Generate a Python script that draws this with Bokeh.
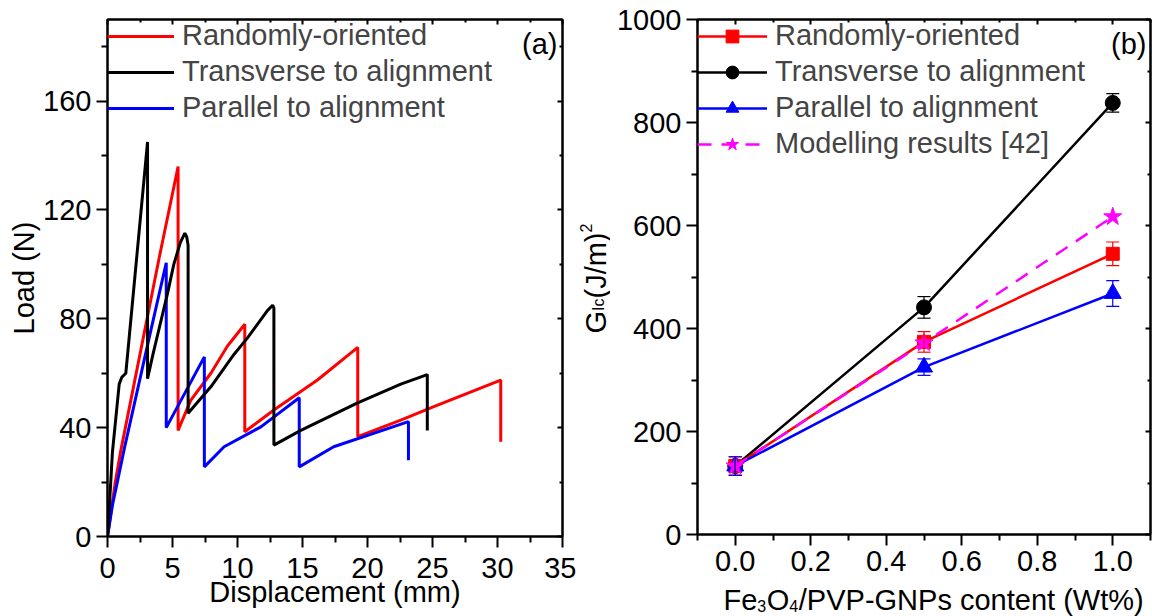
import math
from bokeh.plotting import figure
from bokeh.models import (Range1d, FixedTicker, LinearAxis, Legend, LegendItem, Label,
                          Whisker, TeeHead, ColumnDataSource, NumeralTickFormatter,
                          CustomJSTickFormatter)
from bokeh.layouts import row, column
from bokeh.embed import file_html
from bokeh.resources import INLINE

FONT = "Liberation Sans"
FS = "29px"

# ---------------- panel (a): load vs displacement ----------------
disp_random = [0, 0.3, 0.6, 1.0, 2.0, 3.0, 4.0, 5.43, 5.43, 6.4, 7.95, 9.23, 10.56, 10.56,
               12.8, 16.15, 19.25, 19.25, 22.56, 25.1, 30.25, 30.25]
load_random = [0, 10, 20, 31, 55, 79, 103, 136, 39, 50, 60, 70, 78, 38.5,
               46.5, 57.5, 69.5, 36.7, 42.8, 47.7, 57.5, 34.8]

disp_trans = [0, 0.25, 0.38, 0.9, 1.1, 1.41, 3.08, 3.08, 3.5, 4.0, 4.6, 5.1, 5.6, 5.95,
              6.1, 6.2, 6.2, 7.95, 9.74, 10.77, 12.3, 12.7, 12.8, 12.8, 14.87, 19.2,
              22.56, 24.6, 24.6]
load_trans = [0, 20, 31, 56, 58.5, 60, 145, 58, 67, 77, 89, 100, 108, 111.5,
              110, 107, 45.3, 55, 67, 73, 83, 85, 84, 33.6, 39, 49,
              56, 59.5, 39]

disp_para = [0, 0.4, 0.8, 1.28, 3.3, 4.52, 4.52, 7.45, 7.45, 8.97, 11.8, 14.75, 14.75,
             17.4, 23.15, 23.15]
load_para = [0, 12, 21, 32, 75, 100.6, 40, 66, 25.6, 33, 40.3, 51, 25.6,
             33, 42.2, 28]

a_xticks = [0, 5, 10, 15, 20, 25, 30, 35]
a_xminor = [2.5, 7.5, 12.5, 17.5, 22.5, 27.5, 32.5]
a_yticks = [0, 40, 80, 120, 160]
a_yminor = [20, 60, 100, 140, 180]

# ---------------- panel (b): G_Ic vs content ----------------
content = [0.0, 0.5, 1.0]
g_random = [133, 374, 545]
e_random = [18, 20, 23]
g_trans = [133, 441, 838]
e_trans = [18, 21, 18]
g_para = [133, 325, 468]
e_para = [18, 16, 25]
g_model = [133, 372, 617]

b_xticks = [0.0, 0.2, 0.4, 0.6, 0.8, 1.0]
b_xminor = [-0.1, 0.1, 0.3, 0.5, 0.7, 0.9, 1.1]
b_yticks = [0, 200, 400, 600, 800, 1000]
b_yminor = [100, 300, 500, 700, 900]

series_names = ["Randomly-oriented", "Transverse to alignment", "Parallel to alignment",
                "Modelling results [42]"]


def make_axis(ticks, minors, fmt=None, labels=True, standoff=5):
    ax = LinearAxis(ticker=FixedTicker(ticks=ticks, minor_ticks=minors))
    ax.axis_line_width = 2
    ax.axis_line_color = "black"
    ax.major_tick_line_width = 2
    ax.minor_tick_line_width = 2
    ax.major_tick_line_color = "black"
    ax.minor_tick_line_color = "black"
    if labels:
        ax.major_tick_out = 11
        ax.major_tick_in = 0
        ax.minor_tick_out = 6
        ax.minor_tick_in = 0
        ax.major_label_text_font = FONT
        ax.major_label_text_font_size = FS
        ax.major_label_text_color = "black"
        ax.major_label_standoff = standoff
        if fmt is not None:
            ax.formatter = fmt
    else:
        ax.major_tick_out = 0
        ax.major_tick_in = 5
        ax.minor_tick_out = 0
        ax.minor_tick_in = 3
        ax.formatter = CustomJSTickFormatter(code="return ''")
        ax.major_label_text_font_size = "1px"
        ax.major_label_standoff = 0
    return ax


def base_fig(width, height, xr, yr, bl, br, bt, bb):
    p = figure(width=width, height=height, x_range=xr, y_range=yr,
               output_backend="svg", toolbar_location=None,
               x_axis_type=None, y_axis_type=None,
               min_border_left=bl, min_border_right=br,
               min_border_top=bt, min_border_bottom=bb)
    p.xgrid.visible = False
    p.ygrid.visible = False
    p.outline_line_color = "black"
    p.outline_line_width = 2
    p.background_fill_color = "white"
    p.border_fill_color = "white"
    return p


def text_fig(width, height):
    p = figure(width=width, height=height, x_range=Range1d(0, 1), y_range=Range1d(0, 1),
               output_backend="svg", toolbar_location=None,
               x_axis_type=None, y_axis_type=None,
               min_border_left=0, min_border_right=0, min_border_top=0, min_border_bottom=0)
    p.xgrid.visible = False
    p.ygrid.visible = False
    p.outline_line_color = None
    p.background_fill_color = "white"
    p.border_fill_color = "white"
    return p


def lab(p, x, y, text, size=FS, angle=0.0, align="left", baseline="alphabetic"):
    p.add_layout(Label(x=x, y=y, x_units="screen", y_units="screen", text=text,
                       text_font=FONT, text_font_size=size, text_color="black",
                       angle=angle, text_align=align, text_baseline=baseline))


# ---------- figure (a) ----------
pa = base_fig(576, 616, Range1d(0, 35), Range1d(0, 190), 107, 14, 19, 80)
ax_b = make_axis(a_xticks, a_xminor, standoff=10)
ax_b.axis_label = "Displacement (mm)"
ax_b.axis_label_text_font = FONT
ax_b.axis_label_text_font_size = FS
ax_b.axis_label_text_font_style = "normal"
ax_b.axis_label_text_color = "black"
ax_b.axis_label_standoff = -5
ax_l = make_axis(a_yticks, a_yminor)
ax_l.axis_label = "Load (N)"
ax_l.axis_label_text_font = FONT
ax_l.axis_label_text_font_size = FS
ax_l.axis_label_text_font_style = "normal"
ax_l.axis_label_text_color = "black"
ax_l.axis_label_standoff = 0
pa.add_layout(ax_b, "below")
pa.add_layout(ax_l, "left")
pa.add_layout(make_axis(a_xticks, a_xminor, labels=False), "above")
pa.add_layout(make_axis(a_yticks, a_yminor, labels=False), "right")

r_rand = pa.line(disp_random, load_random, line_color="#FF0000", line_width=3)
r_para = pa.line(disp_para, load_para, line_color="#0000FF", line_width=3)
r_trans = pa.line(disp_trans, load_trans, line_color="#000000", line_width=3)

leg_a = Legend(items=[LegendItem(label=series_names[0], renderers=[r_rand]),
                      LegendItem(label=series_names[1], renderers=[r_trans]),
                      LegendItem(label=series_names[2], renderers=[r_para])],
               location="top_left", margin=0, padding=2, spacing=3,
               glyph_width=67, glyph_height=32, label_height=32, label_standoff=8,
               label_text_font=FONT, label_text_font_size=FS,
               border_line_color=None, background_fill_alpha=0)
pa.add_layout(leg_a, "center")
lab(pa, 450, 493, "(a)", align="right")

# ---------- y-title strip for (b): G_Ic (J/m)^2 ----------
gfig = text_fig(34, 616)
lab(gfig, 19, 203, "G", angle=math.pi / 2)
lab(gfig, 22, 225.6, "Ic", size="16px", angle=math.pi / 2)
lab(gfig, 19, 238, "(J/m)", angle=math.pi / 2)
lab(gfig, 9, 304, "2", size="16px", angle=math.pi / 2)

# ---------- figure (b) ----------
pb = base_fig(542, 585, Range1d(-0.1, 1.1), Range1d(0, 1000), 87, 2, 19, 51)
pb.add_layout(make_axis(b_xticks, b_xminor, fmt=NumeralTickFormatter(format="0.0"),
                        standoff=5), "below")
pb.add_layout(make_axis(b_yticks, b_yminor, standoff=5), "left")
pb.add_layout(make_axis(b_xticks, b_xminor, labels=False), "above")
pb.add_layout(make_axis(b_yticks, b_yminor, labels=False), "right")

specs = [(g_trans, e_trans, "#000000", "circle", 15, 1),
         (g_random, e_random, "#FF0000", "square", 13, 0),
         (g_para, e_para, "#0000FF", "triangle", 17, 2)]
legend_map = {}
for g, e, col, mk, sz, idx in specs:
    src = ColumnDataSource(dict(x=content, upper=[v + d for v, d in zip(g, e)],
                                lower=[v - d for v, d in zip(g, e)]))
    pb.add_layout(Whisker(source=src, base="x", upper="upper", lower="lower",
                          line_color=col, line_width=1.2, level="glyph",
                          upper_head=TeeHead(size=13, line_color=col, line_width=1.2),
                          lower_head=TeeHead(size=13, line_color=col, line_width=1.2)))
    ln = pb.line(content, g, line_color=col, line_width=2.5)
    sc = pb.scatter(content, g, marker=mk, size=sz, fill_color=col, line_color=col)
    legend_map[idx] = [ln, sc]

ln_m = pb.line(content, g_model, line_color="#FF00FF", line_width=2.5, line_dash="14 10")
sc_m = pb.scatter(content, g_model, marker="star", size=19, fill_color="#FF00FF",
                  line_color="#FF00FF")

leg_b = Legend(items=[LegendItem(label=series_names[0], renderers=legend_map[0]),
                      LegendItem(label=series_names[1], renderers=legend_map[1]),
                      LegendItem(label=series_names[2], renderers=legend_map[2]),
                      LegendItem(label=series_names[3], renderers=[ln_m, sc_m])],
               location="top_left", margin=0, padding=1, spacing=3,
               glyph_width=70, glyph_height=32, label_height=32, label_standoff=8,
               label_text_font=FONT, label_text_font_size=FS,
               border_line_color=None, background_fill_alpha=0)
pb.add_layout(leg_b, "center")
lab(pb, 449, 491, "(b)", align="right")

# ---------- x-title strip for (b): Fe3O4/PVP-GNPs content (Wt%) ----------
xfig = text_fig(542, 31)
lab(xfig, 26, 17, "Fe")
lab(xfig, 59.8, 11, "3", size="16px")
lab(xfig, 69.2, 17, "O")
lab(xfig, 91.8, 11, "4", size="16px")
lab(xfig, 101.3, 17, "/PVP-GNPs content (Wt%)")

layout = row(pa, gfig, column(pb, xfig))
open("out.html", "w").write(file_html(layout, INLINE))
